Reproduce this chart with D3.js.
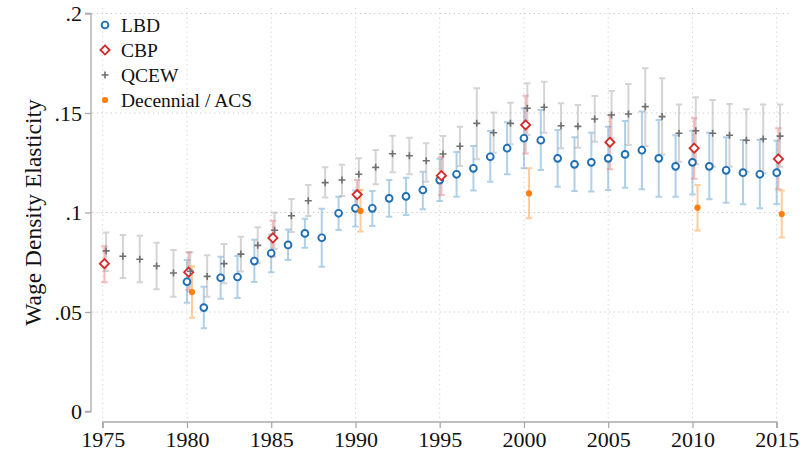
<!DOCTYPE html>
<html>
<head>
<meta charset="utf-8">
<script src="https://cdn.jsdelivr.net/npm/d3@7"></script>
<style>
  body { margin: 0; background: #fff; }
  svg { display: block; font-family: "Liberation Serif", "DejaVu Serif", serif; }
</style>
</head>
<body>
<svg id="chart" width="800" height="459"></svg>
<script>
// data: [year, estimate, lower, upper]
const lbd = [
  [1980, 0.0652, 0.0547, 0.0761], [1981, 0.0522, 0.0418, 0.0627], [1982, 0.0672, 0.0567, 0.0778],
  [1983, 0.0676, 0.0570, 0.0781], [1984, 0.0756, 0.0651, 0.0863], [1985, 0.0795, 0.0700, 0.0890],
  [1986, 0.0837, 0.0761, 0.0915], [1987, 0.0895, 0.0823, 0.0969], [1988, 0.0873, 0.0728, 0.1019],
  [1989, 0.0996, 0.0912, 0.1079], [1990, 0.1021, 0.0930, 0.1110], [1991, 0.1021, 0.0932, 0.1108],
  [1992, 0.1071, 0.0979, 0.1163], [1993, 0.1081, 0.0987, 0.1175], [1994, 0.1113, 0.1016, 0.1205],
  [1995, 0.1163, 0.1058, 0.1270], [1996, 0.1192, 0.1079, 0.1304], [1997, 0.1222, 0.1110, 0.1334],
  [1998, 0.1280, 0.1155, 0.1410], [1999, 0.1323, 0.1192, 0.1453], [2000, 0.1373, 0.1222, 0.1524],
  [2001, 0.1363, 0.1214, 0.1515], [2002, 0.1272, 0.1130, 0.1415], [2003, 0.1242, 0.1108, 0.1378],
  [2004, 0.1252, 0.1105, 0.1401], [2005, 0.1272, 0.1113, 0.1431], [2006, 0.1292, 0.1125, 0.1460],
  [2007, 0.1313, 0.1117, 0.1507], [2008, 0.1272, 0.1079, 0.1465], [2009, 0.1232, 0.1079, 0.1388],
  [2010, 0.1252, 0.1091, 0.1411], [2011, 0.1232, 0.1066, 0.1401], [2012, 0.1212, 0.1049, 0.1378],
  [2013, 0.1200, 0.1041, 0.1364], [2014, 0.1192, 0.1021, 0.1364], [2015, 0.1200, 0.1043, 0.1361]
];
const cbp = [
  [1975, 0.0743, 0.0650, 0.0830], [1980, 0.0700, 0.0610, 0.0800], [1985, 0.0872, 0.0778, 0.0959],
  [1990, 0.1090, 0.1013, 0.1163], [1995, 0.1185, 0.1088, 0.1280], [2000, 0.1440, 0.1297, 0.1587],
  [2005, 0.1353, 0.1217, 0.1490], [2010, 0.1323, 0.1170, 0.1473], [2015, 0.1269, 0.1117, 0.1423]
];
const qcew = [
  [1975, 0.0807, 0.0706, 0.0900], [1976, 0.0780, 0.0671, 0.0887], [1977, 0.0765, 0.0649, 0.0883],
  [1978, 0.0731, 0.0614, 0.0848], [1979, 0.0696, 0.0577, 0.0812], [1980, 0.0705, 0.0600, 0.0800],
  [1981, 0.0679, 0.0577, 0.0785], [1982, 0.0743, 0.0644, 0.0842], [1983, 0.0791, 0.0703, 0.0878],
  [1984, 0.0835, 0.0745, 0.0926], [1985, 0.0911, 0.0817, 0.0999], [1986, 0.0984, 0.0902, 0.1068],
  [1987, 0.1059, 0.0982, 0.1138], [1988, 0.1150, 0.1075, 0.1227], [1989, 0.1163, 0.1083, 0.1240],
  [1990, 0.1192, 0.1113, 0.1272], [1991, 0.1227, 0.1142, 0.1314], [1992, 0.1295, 0.1202, 0.1386],
  [1993, 0.1285, 0.1192, 0.1376], [1994, 0.1260, 0.1155, 0.1348], [1995, 0.1294, 0.1197, 0.1384],
  [1996, 0.1333, 0.1234, 0.1431], [1997, 0.1448, 0.1267, 0.1624], [1998, 0.1401, 0.1300, 0.1502],
  [1999, 0.1448, 0.1343, 0.1552], [2000, 0.1524, 0.1390, 0.1649], [2001, 0.1529, 0.1401, 0.1657],
  [2002, 0.1436, 0.1323, 0.1549], [2003, 0.1433, 0.1326, 0.1540], [2004, 0.1470, 0.1356, 0.1585],
  [2005, 0.1490, 0.1373, 0.1610], [2006, 0.1495, 0.1339, 0.1646], [2007, 0.1532, 0.1334, 0.1725],
  [2008, 0.1482, 0.1292, 0.1674], [2009, 0.1398, 0.1255, 0.1543], [2010, 0.1411, 0.1242, 0.1579],
  [2011, 0.1398, 0.1230, 0.1565], [2012, 0.1388, 0.1230, 0.1545], [2013, 0.1363, 0.1205, 0.1519],
  [2014, 0.1369, 0.1197, 0.1543], [2015, 0.1384, 0.1230, 0.1543]
];
const decennial = [
  [1980, 0.0600, 0.0471, 0.0730], [1990, 0.1008, 0.0904, 0.1113], [2000, 0.1096, 0.0971, 0.1222],
  [2010, 0.1024, 0.0909, 0.1138], [2015, 0.0992, 0.0875, 0.1110]
];
const legendLabels = ["LBD", "CBP", "QCEW", "Decennial / ACS"];
const xTicks = [1975, 1980, 1985, 1990, 1995, 2000, 2005, 2010, 2015];
const yTicks = [0, 0.05, 0.1, 0.15, 0.2];
const yTickLabels = ["0", ".05", ".1", ".15", ".2"];
const yTitle = "Wage Density Elasticity";

const svg = d3.select("#chart");

const x = d3.scaleLinear().domain([1975, 2015]).range([102.7, 776.7]);
const y = d3.scaleLinear().domain([0, 0.2]).range([411.5, 13.5]);

// dotted grid
svg.append("g").selectAll("line").data(yTicks.slice(1)).enter().append("line")
  .attr("x1", 92).attr("x2", 792)
  .attr("y1", d => y(d)).attr("y2", d => y(d))
  .attr("stroke", "#c8c8c8").attr("stroke-width", 1).attr("stroke-dasharray", "1.2,3.5");
svg.append("g").selectAll("line").data(xTicks).enter().append("line")
  .attr("x1", d => x(d)).attr("x2", d => x(d))
  .attr("y1", 8).attr("y2", 421)
  .attr("stroke", "#d0d0d0").attr("stroke-width", 1).attr("stroke-dasharray", "1.2,3.5");

// axes
const xAxis = svg.append("g").attr("transform", "translate(0,422)")
  .call(d3.axisBottom(x).tickValues(xTicks).tickFormat(d3.format("d")).tickSize(6).tickPadding(3));
const yAxis = svg.append("g").attr("transform", "translate(91,0)")
  .call(d3.axisLeft(y).tickValues(yTicks).tickFormat((d, i) => yTickLabels[i]).tickSize(6).tickPadding(3));
[xAxis, yAxis].forEach(a => {
  a.selectAll(".domain").attr("stroke", "#aaa").attr("stroke-width", 1.3);
  a.selectAll(".tick line").attr("stroke", "#aaa").attr("stroke-width", 1.3);
  a.selectAll("text").attr("fill", "#111").style("font-family", "Liberation Serif, serif").style("font-size", "22px");
});
xAxis.select(".domain").attr("d", `M${x(1975)},6V0H${x(2015)}V6`);
yAxis.select(".domain").attr("d", `M-6,${y(0.2)}H0V${y(0)}H-6`);

svg.append("text")
  .attr("transform", `translate(41,${y(0.1)}) rotate(-90)`)
  .attr("text-anchor", "middle")
  .style("font-size", "23.5px").attr("fill", "#111")
  .text(yTitle);

// series styles
const series = [
  { data: lbd, off: 0, bar: "rgba(110,170,215,0.55)", type: "circle" },
  { data: cbp, off: 0.1, bar: "rgba(235,120,120,0.5)", type: "diamond" },
  { data: qcew, off: 0.2, bar: "rgba(160,160,160,0.45)", type: "plus" },
  { data: decennial, off: 0.3, bar: "rgba(255,170,90,0.6)", type: "dot" }
];

function drawMarker(g, type, cx, cy) {
  if (type === "circle") {
    g.append("circle").attr("cx", cx).attr("cy", cy).attr("r", 3.4)
      .attr("fill", "#fff").attr("stroke", "#1f6fb4").attr("stroke-width", 1.9);
  } else if (type === "diamond") {
    g.append("path").attr("d", `M${cx},${cy - 4.6}L${cx + 4.6},${cy}L${cx},${cy + 4.6}L${cx - 4.6},${cy}Z`)
      .attr("fill", "#fff").attr("stroke", "#d62728").attr("stroke-width", 1.8);
  } else if (type === "plus") {
    g.append("path").attr("d", `M${cx - 3.5},${cy}H${cx + 3.5}M${cx},${cy - 3.5}V${cy + 3.5}`)
      .attr("stroke", "#707070").attr("stroke-width", 1.6);
  } else {
    g.append("circle").attr("cx", cx).attr("cy", cy).attr("r", 3.1).attr("fill", "#ff7f0e");
  }
}

// error bars
series.forEach(s => {
  const g = svg.append("g");
  s.data.forEach(d => {
    const cx = x(d[0] + s.off);
    g.append("path")
      .attr("d", `M${cx - 3.2},${y(d[3])}H${cx + 3.2}M${cx},${y(d[3])}V${y(d[2])}M${cx - 3.2},${y(d[2])}H${cx + 3.2}`)
      .attr("fill", "none").attr("stroke", s.bar).attr("stroke-width", 2);
  });
});

// markers
series.forEach(s => {
  const g = svg.append("g");
  s.data.forEach(d => drawMarker(g, s.type, x(d[0] + s.off), y(d[1])));
});

// legend
const leg = svg.append("g");
series.forEach((s, i) => {
  const ly = 25 + i * 25;
  drawMarker(leg, s.type, 105, ly);
  leg.append("text").attr("x", 121).attr("y", ly + 6.5)
    .style("font-size", "19.5px").attr("fill", "#111").text(legendLabels[i]);
});
</script>
</body>
</html>
